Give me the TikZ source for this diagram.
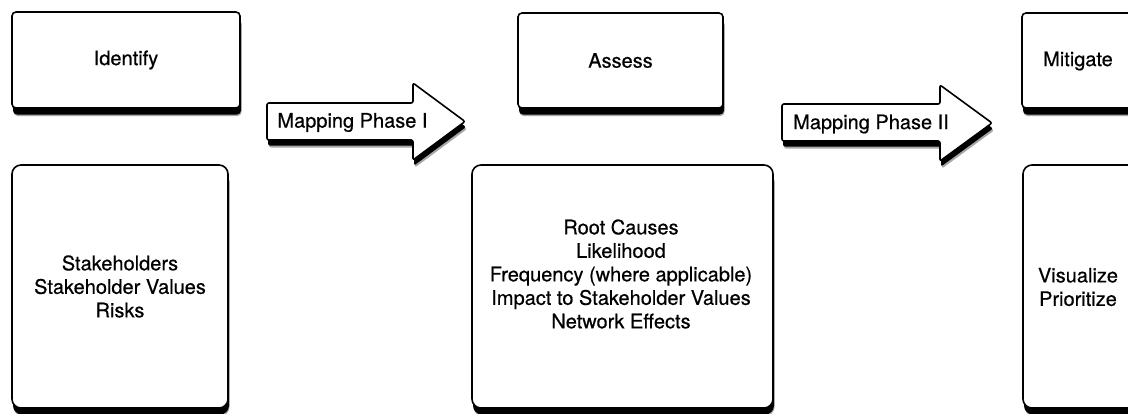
\documentclass[tikz,border=0pt]{standalone}
\usepackage{fontspec}
\setmainfont{TeX Gyre Heros}[UprightFeatures={FakeBold=0.5}]
\usetikzlibrary{shadows}
\begin{document}
\begin{tikzpicture}[x=1pt,y=-1pt,
  every node/.style={font=\fontsize{20}{23.5}\selectfont, text=black},
  shbox/.style={draw=black, line width=1.6pt, fill=white, rounded corners=#1, inner sep=0pt,
     drop shadow={shadow xshift=1.5pt, shadow yshift=-8pt, fill=black!35, opacity=1},
     drop shadow={shadow xshift=1pt, shadow yshift=-6.5pt, fill=black, opacity=1}},
  txt/.style={align=center, inner sep=0pt},
  arrowline/.style={draw=black, line width=1.6pt, fill=white, rounded corners=2pt},
  arrowshadow/.style={fill=black, rounded corners=2pt},
  arrowhalo/.style={fill=black!35, rounded corners=2pt}
]
\useasboundingbox (0,0) rectangle (1128,413);
\clip (0,0) rectangle (1128,413);

% top boxes
\node[shbox=4pt, minimum width=228pt, minimum height=96pt] (identify) at (126,60) {Identify};
\node[shbox=4pt, minimum width=205pt, minimum height=95pt] (assess) at (620.5,60.5) {Assess};
\node[shbox=4pt, minimum width=205pt, minimum height=95pt] (mitbox) at (1124.5,60.5) {};
\node[txt] (mitigate) at (1078,61) {Mitigate};

% lower boxes
\node[shbox=9pt, minimum width=216pt, minimum height=243pt, align=center] (stake) at (120,286.5)
  {Stakeholders\\Stakeholder Values\\Risks};
\node[shbox=9pt, minimum width=301pt, minimum height=243pt] (assesslow) at (622.5,286.5) {};
\node[txt] (factors) at (621,274)
  {Root Causes\\Likelihood\\Frequency (where applicable)\\Impact to Stakeholder Values\\Network Effects};
\node[shbox=9pt, minimum width=216pt, minimum height=243pt] (mitlow) at (1131,286.5) {};
\node[txt] (vis) at (1078,287) {Visualize\\Prioritize};

% block arrows
\fill[arrowhalo, shift={(2,7.5)}] (267,103) -- (413,103) -- (413,83) -- (465,121.5) -- (413,160) -- (413,140) -- (267,140) -- cycle;
\fill[arrowshadow, shift={(1,5.5)}] (267,103) -- (413,103) -- (413,83) -- (465,121.5) -- (413,160) -- (413,140) -- (267,140) -- cycle;
\path[arrowline] (267,103) -- (413,103) -- (413,83) -- (465,121.5) -- (413,160) -- (413,140) -- (267,140) -- cycle;
\node[txt] (phase1) at (352.5,122.5) {Mapping Phase I};

\fill[arrowhalo, shift={(2,7.5)}] (782,104) -- (940,104) -- (940,85) -- (992,123) -- (940,161) -- (940,141) -- (782,141) -- cycle;
\fill[arrowshadow, shift={(1,5.5)}] (782,104) -- (940,104) -- (940,85) -- (992,123) -- (940,161) -- (940,141) -- (782,141) -- cycle;
\path[arrowline] (782,104) -- (940,104) -- (940,85) -- (992,123) -- (940,161) -- (940,141) -- (782,141) -- cycle;
\node[txt] (phase2) at (871,124) {Mapping Phase II};
\end{tikzpicture}
\end{document}
